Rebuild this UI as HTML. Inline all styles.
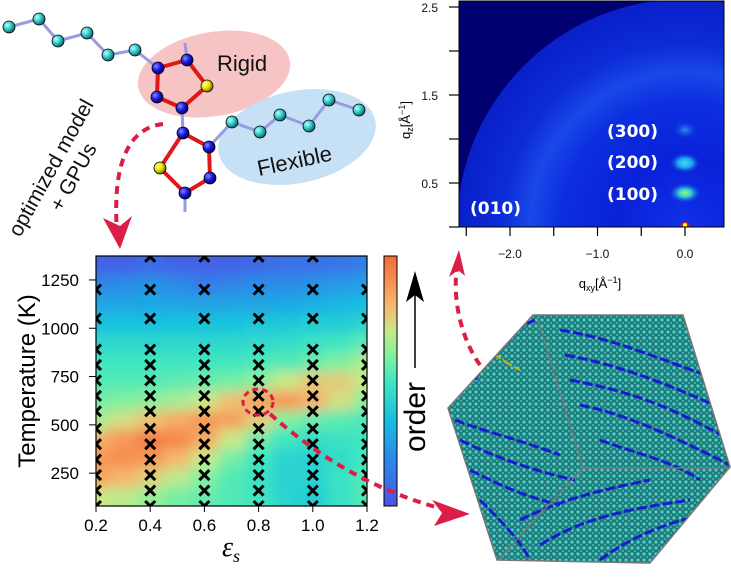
<!DOCTYPE html>
<html><head><meta charset="utf-8"><style>
html,body{margin:0;padding:0;background:#fff;}
svg{display:block;font-family:"Liberation Sans","DejaVu Sans",sans-serif;}
</style></head><body>
<svg id="fig" width="731" height="577" viewBox="0 0 731 577">
<defs>
  <clipPath id="plotClip"><rect x="96" y="256" width="271" height="250"/></clipPath>
  <filter id="blur" filterUnits="userSpaceOnUse" x="60" y="220" width="350" height="330"><feGaussianBlur stdDeviation="6"/></filter>
  <linearGradient id="cbar" x1="0" y1="1" x2="0" y2="0">
    <stop offset="0" stop-color="#4b55e6"/><stop offset="0.2" stop-color="#2a8ce8"/>
    <stop offset="0.35" stop-color="#16c0e0"/><stop offset="0.5" stop-color="#40e6c0"/>
    <stop offset="0.6" stop-color="#80f0a0"/><stop offset="0.7" stop-color="#c8e888"/>
    <stop offset="0.8" stop-color="#f5b870"/><stop offset="0.9" stop-color="#f79050"/>
    <stop offset="1" stop-color="#f36a3a"/>
  </linearGradient>
  <radialGradient id="ball" cx="0.35" cy="0.35" r="0.7"><stop offset="0" stop-color="#bff"/><stop offset="0.5" stop-color="#30c8c8"/><stop offset="1" stop-color="#0a5a5a"/></radialGradient>
  <radialGradient id="nball" cx="0.35" cy="0.35" r="0.7"><stop offset="0" stop-color="#88f"/><stop offset="0.5" stop-color="#1a1ae0"/><stop offset="1" stop-color="#000060"/></radialGradient>
  <radialGradient id="sball" cx="0.35" cy="0.35" r="0.7"><stop offset="0" stop-color="#ffffa0"/><stop offset="0.5" stop-color="#e8e000"/><stop offset="1" stop-color="#606000"/></radialGradient>
  <radialGradient id="scat" cx="685" cy="227" r="228" gradientUnits="userSpaceOnUse">
    <stop offset="0" stop-color="#1030e8"/><stop offset="0.3" stop-color="#0a22d8"/>
    <stop offset="0.55" stop-color="#0c2ee0"/><stop offset="0.68" stop-color="#1a48e8"/>
    <stop offset="0.8" stop-color="#0c2cd8"/><stop offset="1" stop-color="#0a20c8"/>
  </radialGradient>
  <radialGradient id="spot1"><stop offset="0" stop-color="#a0f070"/><stop offset="0.4" stop-color="#30d0d0"/><stop offset="1" stop-color="#1040e8" stop-opacity="0"/></radialGradient>
  <radialGradient id="spot2"><stop offset="0" stop-color="#40e0e8"/><stop offset="0.5" stop-color="#20a0f0"/><stop offset="1" stop-color="#1040e8" stop-opacity="0"/></radialGradient>
  <radialGradient id="spot3"><stop offset="0" stop-color="#3090f0"/><stop offset="1" stop-color="#1040e8" stop-opacity="0"/></radialGradient>
  <pattern id="snapPat" width="6" height="6" patternUnits="userSpaceOnUse">
    <rect width="6" height="6" fill="#1f7a78"/><circle cx="2" cy="2" r="1.6" fill="#4fd0cc"/><circle cx="5" cy="5" r="1.2" fill="#38b0ac"/>
  </pattern>
  <clipPath id="hexClip"><polygon points="533,315 683,315 730,467 650,563 497,560 448,408"/></clipPath>
  <clipPath id="scatClip"><rect x="459" y="1" width="265" height="226"/></clipPath>
</defs>

<g>
  <ellipse cx="214" cy="74" rx="77" ry="42" transform="rotate(-10 214 74)" fill="#f6c4c4"/>
  <ellipse cx="297" cy="137" rx="80" ry="46" transform="rotate(-12 297 137)" fill="#c6e0f6"/>
  <g stroke="#9a9ae0" stroke-width="3" fill="none">
    <polyline points="9,27 39,19 58,41 87,33 108,55 135,50 158,68"/>
    <line x1="185" y1="43" x2="187" y2="60"/><line x1="182" y1="108" x2="183" y2="133"/>
    <line x1="185" y1="193" x2="185" y2="212"/>
    <polyline points="209,147 232,122 260,132 280,115 309,126 329,100 359,110"/>
  </g>
  <g stroke="#e01818" stroke-width="4" fill="none">
    <polygon points="158,68 187,60 207,86 182,108 157,97"/>
    <polygon points="183,133 209,147 210,178 185,193 160,168"/>
  </g>
  <g stroke="#000" stroke-width="0.8">
    <circle cx="9" cy="27" r="6" fill="url(#ball)"/><circle cx="39" cy="19" r="6" fill="url(#ball)"/>
    <circle cx="58" cy="41" r="6" fill="url(#ball)"/><circle cx="87" cy="33" r="6" fill="url(#ball)"/>
    <circle cx="108" cy="55" r="6" fill="url(#ball)"/><circle cx="135" cy="50" r="6" fill="url(#ball)"/>
    <circle cx="232" cy="122" r="6" fill="url(#ball)"/><circle cx="260" cy="132" r="6" fill="url(#ball)"/>
    <circle cx="280" cy="115" r="6" fill="url(#ball)"/><circle cx="309" cy="126" r="6" fill="url(#ball)"/>
    <circle cx="329" cy="100" r="6" fill="url(#ball)"/><circle cx="359" cy="110" r="6" fill="url(#ball)"/>
    <circle cx="158" cy="68" r="6" fill="url(#nball)"/><circle cx="187" cy="60" r="6" fill="url(#nball)"/>
    <circle cx="207" cy="86" r="6" fill="url(#sball)"/><circle cx="182" cy="108" r="6" fill="url(#nball)"/>
    <circle cx="157" cy="97" r="6" fill="url(#nball)"/>
    <circle cx="183" cy="133" r="6" fill="url(#nball)"/><circle cx="209" cy="147" r="6" fill="url(#nball)"/>
    <circle cx="210" cy="178" r="6" fill="url(#nball)"/><circle cx="185" cy="193" r="6" fill="url(#nball)"/>
    <circle cx="160" cy="168" r="6" fill="url(#sball)"/>
  </g>
  <text x="217" y="71" font-size="22" fill="#111">Rigid</text>
  <text x="259" y="176" font-size="22" fill="#111" transform="rotate(-12 259 176)">Flexible</text>
  <g transform="translate(20,238) rotate(-61)" font-size="21" fill="#111">
    <text x="0" y="0">optimized model</text>
    <text x="42" y="24">+ GPUs</text>
  </g>
</g>

<g id="heat">
  <g id="cells" clip-path="url(#plotClip)"><g id="cellsBlur" filter="url(#blur)"></g></g>
  <g id="crosses" clip-path="url(#plotClip)"></g>
  <rect x="96" y="256" width="271" height="250" fill="none" stroke="#000" stroke-width="1.2"/>
  <g id="axes"></g>
  <text transform="translate(35,381) rotate(-90)" text-anchor="middle" font-size="24">Temperature (K)</text>
  <text x="222" y="556" font-size="28" font-family="Liberation Serif,serif" font-style="italic">ε<tspan font-size="18" dy="6">s</tspan></text>
  <rect x="384" y="256" width="13" height="250" fill="url(#cbar)" stroke="#000" stroke-width="1"/>
  <text transform="translate(425,417) rotate(-90)" text-anchor="middle" font-size="30">order</text>
  <line x1="415" y1="368" x2="415" y2="290" stroke="#000" stroke-width="1.5"/>
  <polygon points="406,302 415,271 424,302 415,295" fill="#000"/>
</g>

<g>
  <rect x="459" y="1" width="265" height="226" fill="#000070"/>
  <g clip-path="url(#scatClip)">
    <circle cx="685" cy="227" r="228" fill="url(#scat)"/>
    <ellipse cx="685" cy="193" rx="16" ry="10" fill="url(#spot1)"/>
    <ellipse cx="685" cy="163" rx="15" ry="10" fill="url(#spot2)"/>
    <ellipse cx="685" cy="130" rx="12" ry="9" fill="url(#spot3)"/>
    <circle cx="685" cy="226" r="4" fill="#e02000"/>
    <circle cx="685" cy="225" r="2" fill="#ff0"/>
  </g>
  <rect x="459" y="1" width="265" height="226" fill="none" stroke="#000" stroke-width="1"/>
  <g fill="#fff" font-size="17" font-weight="bold" font-family="DejaVu Sans,sans-serif">
    <text x="607" y="137">(300)</text>
    <text x="607" y="168">(200)</text>
    <text x="607" y="200">(100)</text>
    <text x="470" y="214">(010)</text>
  </g>
  <g id="scatAxes" font-size="12" fill="#111"></g>
  <text transform="translate(410,120) rotate(-90)" text-anchor="middle" font-size="13">q<tspan font-size="9" dy="3">z</tspan><tspan font-size="13" dy="-3">[Å</tspan><tspan font-size="9" dy="-5">−1</tspan><tspan font-size="13" dy="5">]</tspan></text>
  <text x="600" y="288" text-anchor="middle" font-size="13">q<tspan font-size="9" dy="3">xy</tspan><tspan font-size="13" dy="-3">[Å</tspan><tspan font-size="9" dy="-5">−1</tspan><tspan font-size="13" dy="5">]</tspan></text>
</g>

<g>
  <polygon points="533,315 683,315 730,467 650,563 497,560 448,408" fill="url(#snapPat)"/>
  <g clip-path="url(#hexClip)" fill="none" stroke="#1a1ad0" stroke-width="3" stroke-dasharray="10,3">
    <path d="M560,330 C620,340 660,360 720,380"/><path d="M565,355 C620,365 670,385 725,410"/>
    <path d="M570,380 C620,390 660,400 730,440"/><path d="M580,405 C630,415 680,440 730,465"/>
    <path d="M600,440 C640,455 670,460 700,480"/>
    <path d="M455,420 C480,430 520,440 560,455"/><path d="M460,440 C490,455 530,470 575,480"/>
    <path d="M470,470 C500,485 520,495 560,505"/><path d="M480,500 C500,520 520,540 530,560"/>
    <path d="M475,380 C490,350 510,330 535,320"/><path d="M520,520 C560,500 600,490 650,480"/>
    <path d="M540,545 C580,520 620,510 690,500"/><path d="M600,560 C640,530 680,520 720,510"/>
    <path d="M470,340 C490,350 500,360 520,370" stroke="#c8b800" stroke-width="2"/>
  </g>
  <polygon points="533,315 683,315 730,467 650,563 497,560 448,408" fill="none" stroke="#777" stroke-width="1.5"/>
  <polyline points="537,317 583,468 730,468" fill="none" stroke="#777" stroke-width="1.5"/>
  <line x1="583" y1="468" x2="498" y2="560" stroke="#777" stroke-width="1.5"/>
</g>

<g>
  <ellipse cx="258" cy="402" rx="15" ry="13" fill="none" stroke="#dc1e46" stroke-width="3" stroke-dasharray="6,4"/>
  <path d="M163,124 C130,128 112,160 117,232" stroke="#dc1e46" stroke-width="4" stroke-dasharray="8,6" fill="none"/>
  <polygon points="103,218 120,249 132,216 120,226" fill="#dc1e46"/>
  <path d="M270,414 C300,440 360,490 455,512" stroke="#dc1e46" stroke-width="4" stroke-dasharray="8,6" fill="none"/>
  <polygon points="432,500 470,514 434,526 442,513" fill="#dc1e46"/>
  <path d="M480,365 C462,340 452,300 457,268" stroke="#dc1e46" stroke-width="4" stroke-dasharray="8,6" fill="none"/>
  <polygon points="449,277 459,250 465,276 458,270" fill="#dc1e46"/>
</g>
</svg>
<script>
const epsCols = [0.2,0.3,0.4,0.5,0.6,0.7,0.8,0.9,1.0,1.1,1.2];
const tempRows = [1325,1225,1125,1025,925,825,725,625,525,425,325,225,125];
const r1325 = [0.05,0.05,0.08,0.05,0.05,0.05,0.08,0.1,0.1,0.12,0.15];
const r1225 = [0.18,0.2,0.22,0.2,0.15,0.18,0.2,0.2,0.22,0.24,0.26];
const r1125 = [0.27,0.27,0.28,0.27,0.27,0.27,0.27,0.28,0.3,0.32,0.34];
const r1025 = [0.36,0.36,0.36,0.36,0.36,0.36,0.38,0.38,0.4,0.4,0.42];
const r925  = [0.44,0.44,0.44,0.44,0.44,0.44,0.45,0.46,0.48,0.5,0.54];
const r825  = [0.5,0.5,0.5,0.5,0.5,0.5,0.52,0.53,0.56,0.6,0.66];
const r725  = [0.53,0.53,0.53,0.55,0.56,0.58,0.62,0.7,0.76,0.76,0.7];
const r625  = [0.58,0.6,0.62,0.65,0.7,0.78,0.86,0.88,0.82,0.72,0.62];
const r525  = [0.66,0.72,0.78,0.83,0.88,0.86,0.76,0.6,0.56,0.54,0.52];
const r425  = [0.82,0.88,0.95,0.92,0.84,0.7,0.57,0.5,0.47,0.48,0.5];
const r325  = [0.88,0.9,0.88,0.8,0.7,0.58,0.5,0.43,0.42,0.46,0.5];
const r225  = [0.85,0.8,0.75,0.68,0.6,0.53,0.48,0.42,0.42,0.48,0.53];
const r125  = [0.7,0.68,0.63,0.58,0.56,0.53,0.5,0.43,0.4,0.48,0.53];
const orderGrid = [r1325,r1225,r1125,r1025,r925,r825,r725,r625,r525,r425,r325,r225,r125];
const sampleEps = [0.2,0.4,0.6,0.8,1.0,1.2];
const sampleTemps = [80,160,240,320,400,480,570,650,730,810,890,1050,1200,1370];
const xTicks = [0.2,0.4,0.6,0.8,1.0,1.2];
const xTickLabels = ["0.2","0.4","0.6","0.8","1.0","1.2"];
const yTicks = [250,500,750,1000,1250];
const qxyTicks = [-2.5,-2.0,-1.5,-1.0,-0.5,0.0];
const qxyLabels = {"-2":"−2.0","-1":"−1.0","0":"0.0"};
const qzTicks = [0,0.5,1.0,1.5,2.0,2.5];
const qzLabels = {"0.5":"0.5","1.5":"1.5","2.5":"2.5"};

const NS = "http://www.w3.org/2000/svg";
const xS = e => 96 + (e-0.2)/(1.2-0.2)*271;
const yS = t => 506 - (t-80)/(1374-80)*250;
const qx = q => 685 + q*87.5;
const qz = q => 227 - q*88;

const stops = [[0,[75,85,230]],[0.2,[42,140,232]],[0.35,[22,192,224]],[0.5,[64,230,192]],[0.6,[128,240,160]],[0.7,[200,232,136]],[0.8,[245,184,112]],[0.9,[247,144,80]],[1,[243,106,58]]];
function cmap(v){v=Math.max(0,Math.min(1,v));for(let i=1;i<stops.length;i++){if(v<=stops[i][0]){const a=stops[i-1],b=stops[i];const f=(v-a[0])/(b[0]-a[0]);const c=a[1].map((x,k)=>Math.round(x+(b[1][k]-x)*f));return 'rgb('+c.join(',')+')';}}return 'rgb(243,106,58)';}
function mk(tag,attrs,parent){const e=document.createElementNS(NS,tag);for(const k in attrs)e.setAttribute(k,attrs[k]);parent.appendChild(e);return e;}

const cg = document.getElementById('cellsBlur');
const dE = 0.1, dT = 100;
orderGrid.forEach((row,ri)=>{row.forEach((v,ci)=>{
  let e0=epsCols[ci]-dE/2, e1=epsCols[ci]+dE/2, t0=tempRows[ri]-dT/2, t1=tempRows[ri]+dT/2;
  if(ci===0) e0-=0.2; if(ci===row.length-1) e1+=0.2;
  if(ri===0) t1+=200; if(ri===orderGrid.length-1) t0-=200;
  const r = mk('rect',{x:xS(e0),y:yS(t1),width:xS(e1)-xS(e0)+0.5,height:yS(t0)-yS(t1)+0.5,fill:cmap(v)},cg);
  
  
});});

const xg = document.getElementById('crosses');
sampleEps.forEach(e=>{sampleTemps.forEach(t=>{
  if((e===0.2||e===1.2) && t===1370) return;
  const cx=xS(e), cy=yS(t);
  const p = mk('path',{d:'M'+(cx-5)+','+(cy-5)+'L'+(cx+5)+','+(cy+5)+'M'+(cx+5)+','+(cy-5)+'L'+(cx-5)+','+(cy+5),stroke:'#000','stroke-width':3},xg);
  
  
});});

const ag = document.getElementById('axes');
xTicks.forEach((t,i)=>{
  mk('line',{x1:xS(t),x2:xS(t),y1:506,y2:512,stroke:'#000'},ag);
  const tx = mk('text',{x:xS(t),y:531,'text-anchor':'middle','font-size':17},ag);
  tx.textContent = xTickLabels[i];
  
  
});
yTicks.forEach(t=>{
  mk('line',{x1:89,x2:96,y1:yS(t),y2:yS(t),stroke:'#000'},ag);
  const tx = mk('text',{x:79,y:yS(t)+6,'text-anchor':'end','font-size':17},ag);
  tx.textContent = String(t);
  
  
});

const sg = document.getElementById('scatAxes');
qxyTicks.forEach(q=>{
  mk('line',{x1:qx(q),x2:qx(q),y1:227,y2:236,stroke:'#000','stroke-width':1.2},sg);
  const key=String(q);
  if(qxyLabels[key]){const tx=mk('text',{x:qx(q),y:258,'text-anchor':'middle'},sg);tx.textContent=qxyLabels[key];
    
    }
});
qzTicks.forEach(q=>{
  mk('line',{x1:449,x2:459,y1:qz(q),y2:qz(q),stroke:'#000','stroke-width':1.2},sg);
  const key=String(q);
  if(qzLabels[key]){const tx=mk('text',{x:438,y:qz(q)+5,'text-anchor':'end'},sg);tx.textContent=qzLabels[key];
    
    }
});
</script>
</body></html>
